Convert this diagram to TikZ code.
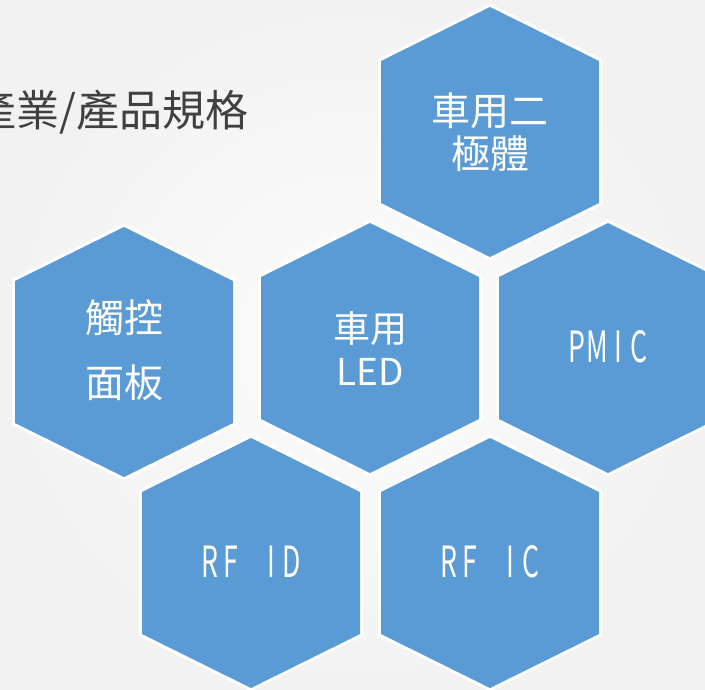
\documentclass[tikz,border=0pt]{standalone}
\usepackage{fontspec}
\setmainfont{Noto Sans CJK TC}
\newfontfamily\halffont[FakeStretch=0.62]{Noto Sans CJK TC}
\usepackage{xcolor}
\usepackage{tikz}
\usetikzlibrary{positioning,calc}
\definecolor{hexblue}{HTML}{5B9BD5}
\definecolor{bgin}{HTML}{FDFDFD}
\definecolor{bgout}{HTML}{F2F2F2}
\definecolor{titlegray}{HTML}{404040}
\newcommand\hwc[1]{\makebox[20.5pt]{#1}}
\tikzset{
  hexcell/.style={fill=hexblue, preaction={draw=white, line width=6pt, line join=miter}},
  hexlabel/.style={text=white, align=center, inner sep=0pt, font=\fontsize{39}{43}\selectfont},
  halflabel/.style={hexlabel, font=\halffont\fontsize{43}{43}\selectfont}
}

\begin{document}
\begin{tikzpicture}[x=1pt,y=-1pt]
    \useasboundingbox (0,0) rectangle (705,689);
    \clip (0,0) rectangle (705,689);
    \shade[inner color=bgin, outer color=bgout] (0,0) rectangle (705,689);
    \node[anchor=east, inner sep=0pt, text=titlegray, font=\fontsize{43}{46}\selectfont] (title) at (249,112) {產業/產品規格};
    \foreach \x/\y in {490/132, 124/352, 370/348, 608/348, 251/563, 490/563}
        \path[hexcell] (\x,\y-125) -- (\x+109,\y-71) -- (\x+109,\y+71) -- (\x,\y+125)
            -- (\x-109,\y+71) -- (\x-109,\y-71) -- cycle;
    \node[hexlabel] (diode) at (490,132) {車用二\\極體};
    \node[hexlabel] (touch) at (124,350) {觸控\\[22pt]面板};
    \node[hexlabel, font=\fontsize{37}{43}\selectfont] (led) at (370,348) {車用\\LED};
    \node[halflabel] (pmic) at (608,347) {\hwc{P}\hwc{M}\hwc{I}\hwc{C}};
    \node[halflabel] (rfid) at (251,562) {\hwc{R}\hwc{F}\hwc{}\hwc{I}\hwc{D}};
    \node[halflabel] (rfic) at (490,562) {\hwc{R}\hwc{F}\hwc{}\hwc{I}\hwc{C}};
\end{tikzpicture}
\end{document}
